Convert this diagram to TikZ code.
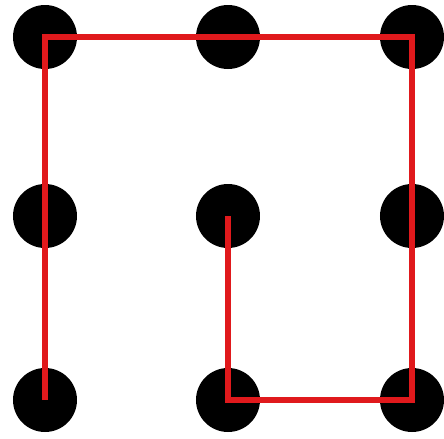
\documentclass[tikz,border=0pt]{standalone}
\usepackage{xcolor}
\definecolor{PathRed}{HTML}{E0191C}
\usepackage{tikz}
\usetikzlibrary{positioning}

\begin{document}
\begin{tikzpicture}[x=1cm, y=1cm]
% ============================================================
%  3x3 dot grid with a red stroke through six of the dots
% ============================================================

\tikzset{
  griddot/.style={circle, fill=black, inner sep=0pt, minimum size=0.64cm},
  stroke/.style={PathRed, line width=1.7pt, line join=miter},
}

  % ── Frame ─────────────────────────────────────────────────
  \useasboundingbox (0,0) rectangle (4.44,4.38);

  % ── Dots ──────────────────────────────────────────────────
  \foreach \c/\x in {1/0.45, 2/2.28, 3/4.12}{
    \foreach \r/\y in {1/4.01, 2/2.22, 3/0.38}{
      \node[griddot] (d\c\r) at (\x,\y) {};
    }
  }

  % ── Red stroke ────────────────────────────────────────────
  \draw[stroke]
    (d13.center) -- (d11.center) -- (d31.center) -- (d33.center)
    -- (d23.center) -- (d22.center);

\end{tikzpicture}
\end{document}
